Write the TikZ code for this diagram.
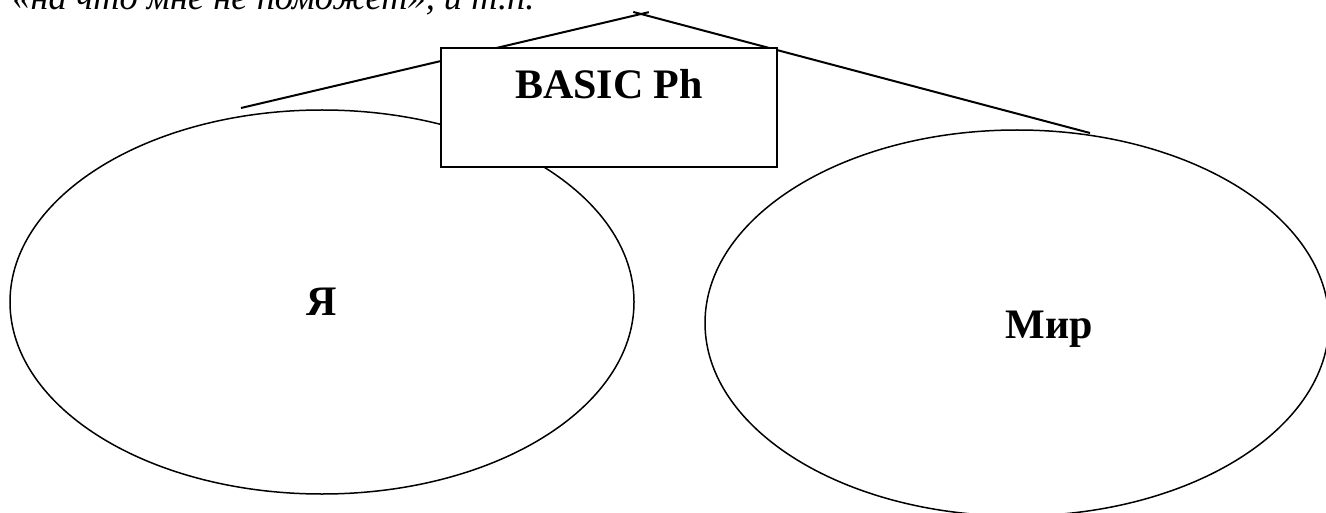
\documentclass[tikz,border=0pt]{standalone}
\usepackage{fontspec}
\setmainfont{Liberation Serif}
\usetikzlibrary{shapes.geometric}
\begin{document}
\begin{tikzpicture}[x=0.5pt,y=-0.5pt,
  oval/.style={draw, ellipse, line width=0.75pt, inner sep=0pt,
    minimum width=312pt, minimum height=192pt,
    font=\bfseries\fontsize{21}{25}\selectfont},
  link/.style={line width=1pt, shorten <=-4pt},
  titlebox/.style={draw, fill=white, line width=1pt, inner xsep=0pt, inner ysep=0pt,
    minimum width=168pt, text height=25.5pt, text depth=34pt,
    font=\bfseries\fontsize{21}{25}\selectfont},
  bold/.style={inner sep=0pt, font=\bfseries\fontsize{21}{25}\selectfont},
  quote/.style={inner sep=0pt, font=\itshape\fontsize{18.2}{22}\selectfont}
]
\useasboundingbox (0,0) rectangle (1326,513);
\clip (0,0) rectangle (1326,513);

% running text line above the scheme
\node[quote, anchor=base west] (intro) at (12,10) {«на что мне не поможет», и т.п.};

% the two fields: self and world
\node[oval] (self) at (322,302) {Я};
\node[oval, minimum height=193pt] (world) at (1017,323) {};
\node[bold, anchor=base] (worldtext) at (1049,338) {Мир};

% roof over both fields
\coordinate (apex) at (641,14);
\coordinate (leftend) at (241,108);
\coordinate (rightend) at (1090,133);
\draw[link] (apex) -- (leftend);
\draw[link] (apex) -- (rightend);

% central box
\node[titlebox, anchor=north] (basic) at (609,47) {BASIC Ph};
\end{tikzpicture}
\end{document}
